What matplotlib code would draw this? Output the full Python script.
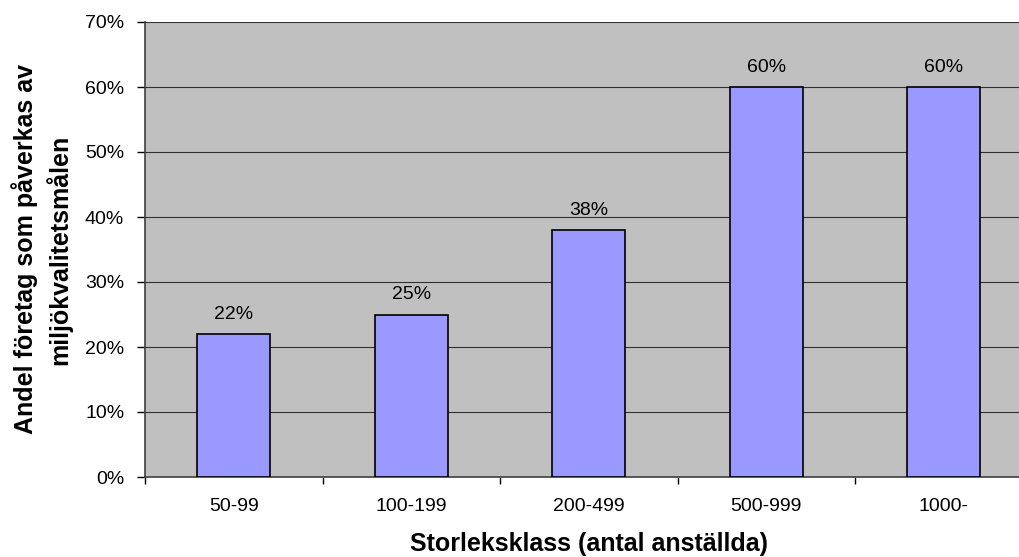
import matplotlib as mpl
mpl.use('Agg')
import matplotlib.pyplot as plt
import numpy as np
from matplotlib.ticker import FixedLocator, MultipleLocator, PercentFormatter

plt.rcParams['font.family'] = ['Liberation Sans', 'DejaVu Sans']

categories = ['50-99', '100-199', '200-499', '500-999', '1000-']
shares = [22, 25, 38, 60, 60]
xlabel = 'Storleksklass (antal anställda)'
ylabel = 'Andel företag som påverkas av\nmiljökvalitetsmålen'

fig = plt.figure(figsize=(10.19, 5.57), dpi=100)
ax = fig.add_axes([145 / 1019, 80 / 557, 887.5 / 1019, 455 / 557])
ax.set_facecolor('#C0C0C0')

x = np.arange(len(categories))
bars = ax.bar(x, shares, width=0.41, color='#9999FF', edgecolor='black', linewidth=1.2, zorder=3)
for b, v in zip(bars, shares):
    ax.annotate(f'{v}%', (b.get_x() + b.get_width() / 2, v), xytext=(0, 8),
                textcoords='offset points', ha='center', va='bottom', fontsize=14)

ax.set_xlim(-0.5, len(categories) - 0.5)
ax.set_ylim(0, 70)
ax.yaxis.set_major_locator(MultipleLocator(10))
ax.yaxis.set_major_formatter(PercentFormatter(decimals=0))
ax.grid(axis='y', color='#303030', linewidth=0.8, zorder=1)
ax.set_axisbelow(True)

ax.set_xticks(x)
ax.set_xticklabels(categories)
ax.xaxis.set_minor_locator(FixedLocator(np.arange(-0.5, len(categories), 1)))
ax.tick_params(axis='x', which='major', length=0, pad=15, labelsize=14)
ax.tick_params(axis='x', which='minor', length=5, width=1, color='black')
ax.tick_params(axis='y', length=6, width=1, color='black', labelsize=14, pad=9)

for s in ['top', 'right']:
    ax.spines[s].set_visible(False)
ax.spines['left'].set_color('#404040')
ax.spines['bottom'].set_color('#404040')
ax.spines['left'].set_linewidth(1.2)
ax.spines['bottom'].set_linewidth(1.2)

ax.set_xlabel(xlabel, fontsize=18, fontweight='bold', labelpad=12)
ax.set_ylabel(ylabel, fontsize=18, fontweight='bold', labelpad=9, linespacing=1.35)

fig.savefig('out.png', dpi=100)
